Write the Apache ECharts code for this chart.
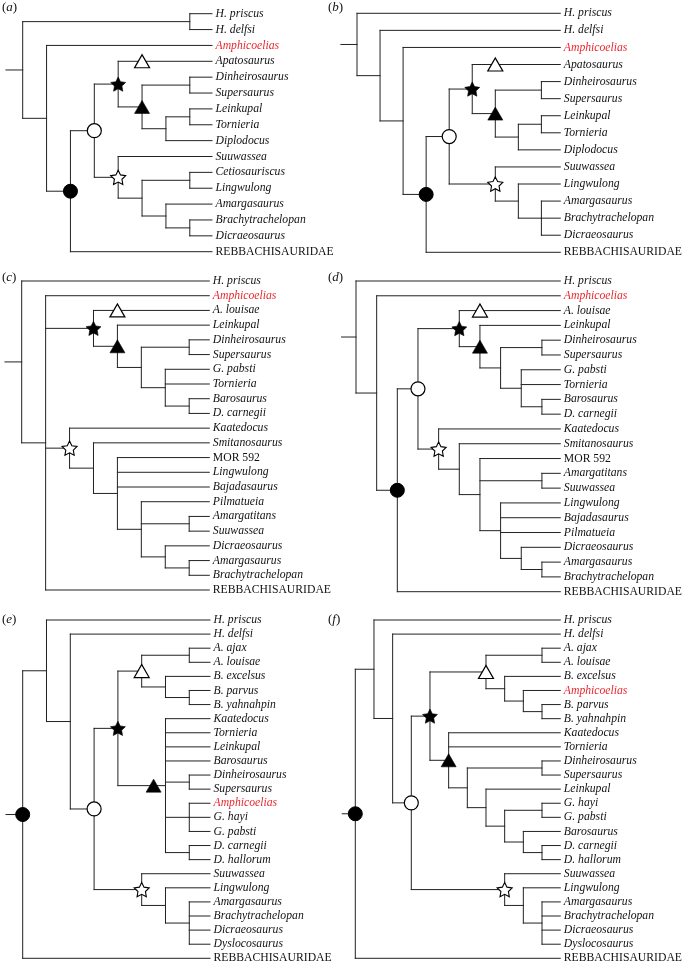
<!DOCTYPE html>
<html><head><meta charset="utf-8">
<script src="https://cdn.jsdelivr.net/npm/echarts@6/dist/echarts.min.js"></script>
<style>html,body{margin:0;padding:0;background:#fff}#c{width:684px;height:966px}</style>
</head><body><div id="c"></div>
<script>
// ---- DATA: trees in Newick form, [XX] = clade marker (optional +offset in steps) ----
const panelLetters = ['a','b','c','d','e','f'];
const treeA = "((H. priscus,H. delfsi),(Amphicoelias,(((Apatosaurus[OT],((Dinheirosaurus,Supersaurus),((Leinkupal,Tornieria),Diplodocus))[FT])[FS],(Suuwassea,((Cetiosauriscus,Lingwulong),(Amargasaurus,(Brachytrachelopan,Dicraeosaurus))))[OS])[OC],REBBACHISAURIDAE)[FC]))";
const treeB = "(H. priscus,(H. delfsi,(Amphicoelias,(((Apatosaurus[OT],((Dinheirosaurus,Supersaurus),((Leinkupal,Tornieria),Diplodocus))[FT])[FS],(Suuwassea,(Lingwulong,(Amargasaurus,Brachytrachelopan,Dicraeosaurus)))[OS])[OC],REBBACHISAURIDAE)[FC])))";
const treeC = "(H. priscus,(Amphicoelias,(A. louisae[OT],(Leinkupal,((Dinheirosaurus,Supersaurus),(G. pabsti,Tornieria,(Barosaurus,D. carnegii))))[FT])[FS],(Kaatedocus,(Smitanosaurus,(MOR 592,Lingwulong,Bajadasaurus,(Pilmatueia,(Amargatitans,Suuwassea),(Dicraeosaurus,(Amargasaurus,Brachytrachelopan))))))[OS],REBBACHISAURIDAE))";
const treeD = "(H. priscus,(Amphicoelias,(((A. louisae[OT],(Leinkupal,((Dinheirosaurus,Supersaurus),(G. pabsti,Tornieria,(Barosaurus,D. carnegii))))[FT])[FS],(Kaatedocus,(Smitanosaurus,(MOR 592,(Amargatitans,Suuwassea),(Lingwulong,Bajadasaurus,Pilmatueia,(Dicraeosaurus,(Amargasaurus,Brachytrachelopan))))))[OS])[OC],REBBACHISAURIDAE)[FC]))";
const treeE = "((H. priscus,(H. delfsi,((((A. ajax,A. louisae),(B. excelsus,(B. parvus,B. yahnahpin)))[OT],(Kaatedocus,Tornieria,Leinkupal,Barosaurus,(Dinheirosaurus,Supersaurus),(Amphicoelias,G. hayi,G. pabsti),(D. carnegii,D. hallorum))[FT+0.5])[FS],(Suuwassea,(Lingwulong,(Amargasaurus,Brachytrachelopan,Dicraeosaurus,Dyslocosaurus)))[OS])[OC])),REBBACHISAURIDAE)[FC]";
const treeF = "((H. priscus,(H. delfsi,((((A. ajax,A. louisae),(B. excelsus,(Amphicoelias,(B. parvus,B. yahnahpin))))[OT],(Kaatedocus,Tornieria,((Dinheirosaurus,Supersaurus),(Leinkupal,((G. hayi,G. pabsti),(Barosaurus,(D. carnegii,D. hallorum))))))[FT])[FS],(Suuwassea,(Lingwulong,(Amargasaurus,Brachytrachelopan,Dicraeosaurus,Dyslocosaurus)))[OS])[OC])),REBBACHISAURIDAE)[FC]";
const trees = [treeA, treeB, treeC, treeD, treeE, treeF];
const highlightTaxa = ['Amphicoelias'];
const uprightTaxa = ['REBBACHISAURIDAE', 'MOR 592'];

// ---- LAYOUT (pixels) ----
const layout = [
  {root: 22.7, tip: 212,   top: 13.7, bottom: 251.7, tipGap: 0.93, lx: 2,   ly: 8.5},
  {root: 357,  tip: 560.3, top: 13.3, bottom: 252.3, tipGap: 0.82, lx: 328, ly: 8.5},
  {root: 21.7, tip: 209.3, top: 281,  bottom: 590,   tipGap: 0.84, lx: 2,   ly: 278.5},
  {root: 356,  tip: 560.3, top: 281,  bottom: 591.7, tipGap: 0.89, lx: 328, ly: 278.5},
  {root: 22.7, tip: 210,   top: 620,  bottom: 958.3, tipGap: 0.87, lx: 2,   ly: 620},
  {root: 355.3,tip: 560.3, top: 620,  bottom: 958.3, tipGap: 0.98, lx: 328, ly: 620}
];
const STUB = 0.7;
const FONT = '"Liberation Serif", "Times New Roman", serif';
const LINE = '#222';
const RED = '#e8282f';
const STAR = 'path://M0,-10L2.94,-4.05L9.51,-3.09L4.76,1.55L5.88,8.09L0,5L-5.88,8.09L-4.76,1.55L-9.51,-3.09L-2.94,-4.05Z';
const markerStyle = {
  FC: {symbol: 'circle', symbolSize: 14, itemStyle: {color: '#000', borderColor: '#000', borderWidth: 1, opacity: 1}},
  OC: {symbol: 'circle', symbolSize: 14, itemStyle: {color: '#fff', borderColor: '#000', borderWidth: 1.2, opacity: 1}},
  FS: {symbol: STAR, symbolSize: 15, symbolKeepAspect: true, itemStyle: {color: '#000', borderColor: '#000', borderWidth: 0.6, opacity: 1}},
  OS: {symbol: STAR, symbolSize: 15, symbolKeepAspect: true, itemStyle: {color: '#fff', borderColor: '#000', borderWidth: 1.1, opacity: 1}},
  FT: {symbol: 'triangle', symbolSize: [15, 13], itemStyle: {color: '#000', borderColor: '#000', borderWidth: 0.6, opacity: 1}},
  OT: {symbol: 'triangle', symbolSize: [15, 13], itemStyle: {color: '#fff', borderColor: '#000', borderWidth: 1.2, opacity: 1}}
};

function parseNewick(s) {
  let i = 0;
  function node() {
    const n = {children: []};
    if (s[i] === '(') {
      i++;
      n.children.push(node());
      while (s[i] === ',') { i++; n.children.push(node()); }
      i++;
    } else {
      let name = '';
      while (i < s.length && !',()['.includes(s[i])) name += s[i++];
      n.name = name.trim();
    }
    if (s[i] === '[') {
      let tag = ''; i++;
      while (s[i] !== ']') tag += s[i++];
      i++;
      const m = tag.match(/^([A-Z]+)([+-][\d.]+)?$/);
      n.tag = m[1]; n.tagOff = m[2] ? parseFloat(m[2]) : 0;
    }
    return n;
  }
  return node();
}

const grids = [], xAxes = [], yAxes = [], series = [], graphics = [];
trees.forEach((nw, p) => {
  const L = layout[p];
  const root = parseNewick(nw);
  const leaves = [];
  (function assign(n, parent) {
    n.parent = parent;
    if (!n.children.length) { n.y = leaves.length; n.h = 0; leaves.push(n); return; }
    n.children.forEach(c => assign(c, n));
    n.h = Math.max(...n.children.map(c => c.h)) + 1;
    n.y = (n.children[0].y + n.children[n.children.length - 1].y) / 2;
  })(root, null);
  const tipVal = 1 - L.tipGap;
  const xv = n => n.children.length ? n.h : tipVal;
  const segs = [], marks = [], labels = [];
  (function walk(n) {
    if (n.parent) segs.push([xv(n.parent), n.y, xv(n), n.y]);
    else segs.push([n.h + STUB, n.y, n.h, n.y]);
    if (n.children.length) {
      segs.push([n.h, n.children[0].y, n.h, n.children[n.children.length - 1].y]);
      n.children.forEach(walk);
    } else {
      const red = highlightTaxa.includes(n.name), up = uprightTaxa.includes(n.name);
      labels.push({value: [tipVal, n.y], name: n.name,
        label: {fontStyle: up ? 'normal' : 'italic', color: red ? RED : '#111'}});
    }
    if (n.tag) {
      const hx = n.children.length ? n.h + n.tagOff : n.parent.h - 1 + n.tagOff;
      marks.push(Object.assign({value: [hx, n.y]}, markerStyle[n.tag]));
    }
  })(root);

  grids.push({left: L.root, width: L.tip - L.root, top: L.top, height: L.bottom - L.top, containLabel: false});
  xAxes.push({gridIndex: p, type: 'value', inverse: true, min: tipVal, max: root.h, show: false});
  yAxes.push({gridIndex: p, type: 'value', inverse: true, min: 0, max: leaves.length - 1, show: false});
  series.push({
    type: 'custom', xAxisIndex: p, yAxisIndex: p, data: segs, clip: false, silent: true,
    encode: {x: [0, 2], y: [1, 3]},
    renderItem: (params, api) => {
      const a = api.coord([api.value(0), api.value(1)]);
      const b = api.coord([api.value(2), api.value(3)]);
      return {type: 'line', shape: {x1: a[0], y1: a[1], x2: b[0], y2: b[1]},
        style: {stroke: LINE, lineWidth: 1, lineCap: 'square'}};
    }, z: 1
  });
  series.push({
    type: 'scatter', xAxisIndex: p, yAxisIndex: p, data: labels, symbolSize: 1, silent: true,
    itemStyle: {color: 'rgba(0,0,0,0)', opacity: 1},
    label: {show: true, position: 'right', distance: 3, formatter: '{b}',
      fontFamily: FONT, fontSize: 11.7, color: '#111'}, z: 2
  });
  series.push({
    type: 'scatter', xAxisIndex: p, yAxisIndex: p, data: marks, silent: true, z: 3,
    itemStyle: {opacity: 1}
  });
  graphics.push({type: 'text', left: L.lx, top: L.ly - 7,
    style: {text: '{r|(}{i|' + panelLetters[p] + '}{r|)}',
      rich: {r: {fontFamily: FONT, fontSize: 13, fill: '#111'}, i: {fontFamily: FONT, fontSize: 13, fontStyle: 'italic', fill: '#111'}}}});
});

const chart = echarts.init(document.getElementById('c'), null, {renderer: 'canvas'});
chart.setOption({
  animation: false, backgroundColor: '#fff',
  grid: grids, xAxis: xAxes, yAxis: yAxes, series: series, graphic: graphics
});
</script></body></html>
